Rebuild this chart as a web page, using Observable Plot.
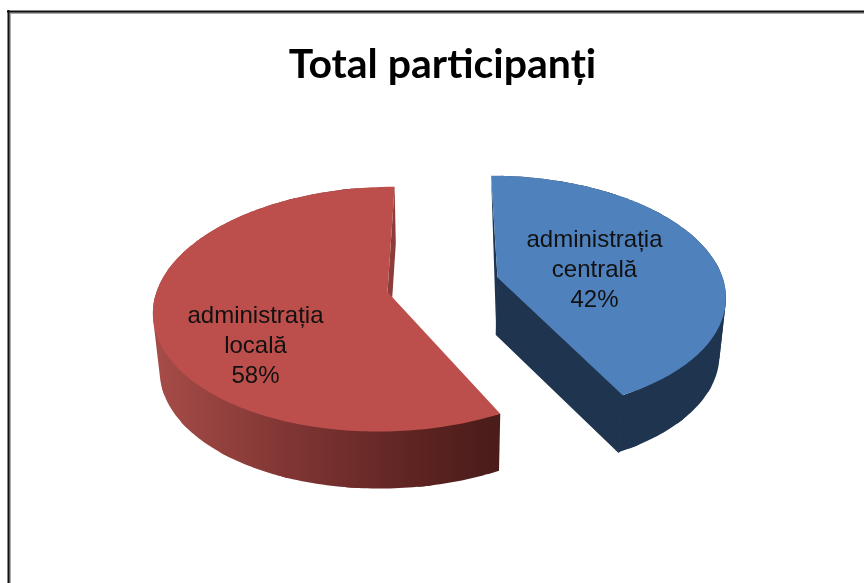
<!DOCTYPE html>
<html>
<head>
<meta charset="utf-8">
<script src="https://cdn.jsdelivr.net/npm/d3@7"></script>
<script src="https://cdn.jsdelivr.net/npm/@observablehq/plot@0.6"></script>
<style>
html,body{margin:0;padding:0;background:#fff;overflow:hidden}
svg{display:block;filter:blur(0.5px)}
</style>
</head>
<body>
<div id="chart"></div>
<script>
// Data
const categories = ["administrația\ncentrală", "administrația\nlocală"];
const shares = [42, 58];
const chartTitle = "Total participanți";

// Pie view settings (one per slice, in the order of the data)
const apexX = [497, 387], apexY = [277, 291.5];
const radiusX = [225, 231], radiusY = [116, 120];
const topColors = ["#4f81bd", "#bc4f4b"];
const wallColors = ["#1f344f", "url(#redWall)"];
const innerColors = ["#1f344f", "#8c3c39"];
const labelX = [594, 255], labelY = [267, 343];
const wallInset = [[3, 0], [0, 10]];
const vanishX = 445, perspective = 0.14, depth = 57, depthScale = 0.977, edgeNudge = 1.5;
const chunk = 16, chunkOverlap = 3;

const total = d3.sum(shares);
const boundaries = d3.cumsum(shares).map(v => v / total * 360);
const bounds = [[0, boundaries[0] + edgeNudge], [boundaries[0] + edgeNudge, 360]];

function project(i, deg, radial, low) {
  const a = deg * Math.PI / 180;
  const u = Math.sin(a) * radial, v = -Math.cos(a) * radial;
  const s = 1 / (1 - perspective * v);
  let x = vanishX + (apexX[i] + radiusX[i] * u - vanishX) * s;
  let y = apexY[i] + radiusY[i] * v * s;
  if (low) { x = vanishX + (x - vanishX) * depthScale; y += depth; }
  return {x, y};
}
const surface = i => [...d3.range(bounds[i][0], bounds[i][1], 1).concat(bounds[i][1]).map(a => project(i, a, 1, false)), project(i, 0, 0, false)];

// the outer wall: overlapping convex pieces, so no seams show and the silhouette stays filled
function wallPieces(i) {
  const a0 = bounds[i][0] + wallInset[i][0], a1 = bounds[i][1] - wallInset[i][1];
  const out = [];
  for (let a = a0, k = 0; a < a1; a += chunk, k++) {
    const end = Math.min(a + chunk + chunkOverlap, a1);
    const angles = d3.range(a, end, 1).concat(end);
    const pts = angles.flatMap(t => [project(i, t, 1, false), project(i, t, 1, true)]).map(p => [p.x, p.y]);
    d3.polygonHull(pts).forEach(([x, y]) => out.push({x, y, k}));
  }
  return out;
}
const frontWall = (i, deg) => [project(i, deg, 1, false), project(i, 0, 0, false), project(i, 0, 0, true), project(i, deg, 1, true), project(i, deg, 1, false)];
const backWall = (i, deg) => [project(i, deg, 1, false), project(i, 0, 0, false), project(i, 0, 0, true)];

const poly = (pts, color) => Plot.line(pts, {x: "x", y: "y", fill: color, stroke: "none"});
const seamless = (pts, color) => Plot.line(pts, {x: "x", y: "y", fill: color, stroke: color, strokeWidth: 1.2});
const pieces = (i) => Plot.line(wallPieces(i), {x: "x", y: "y", z: "k", fill: wallColors[i], stroke: "none"});

const sliceMarks = [
  poly(backWall(0, 0), innerColors[0]),
  pieces(0),
  seamless(frontWall(0, bounds[0][1]), innerColors[0]),
  poly(surface(0), topColors[0]),
  pieces(1),
  poly(frontWall(1, 360), innerColors[1]),
  poly(surface(1), topColors[1])
];

const labels = shares.map((s, i) => ({text: `${categories[i]}\n${s}%`, x: labelX[i], y: labelY[i]}));

const defs = () => {
  const d = d3.create("svg:defs");
  const g = d.append("linearGradient").attr("id", "redWall")
    .attr("gradientUnits", "userSpaceOnUse")
    .attr("x1", 155).attr("x2", 497).attr("y1", 0).attr("y2", 0);
  [[0, "#a64c48"], [0.4, "#7f3533"], [0.8, "#5a2220"], [1, "#4a1c1a"]]
    .forEach(([o, c]) => g.append("stop").attr("offset", o).attr("stop-color", c));
  return d.node();
};

const plot = Plot.plot({
  width: 864, height: 583, margin: 0,
  style: {background: "#fff", maxWidth: "none"},
  x: {domain: [0, 864], range: [0, 864], axis: null},
  y: {domain: [0, 583], range: [0, 583], axis: null},
  marks: [
    defs,
    Plot.ruleX([9], {y1: 11, y2: 583, stroke: "#aaa", strokeWidth: 3}),
    Plot.ruleY([12], {x1: 8, x2: 864, stroke: "#aaa", strokeWidth: 3}),
    Plot.ruleX([8], {y1: 10, y2: 583, stroke: "#111", strokeWidth: 2}),
    Plot.ruleY([11], {x1: 7, x2: 864, stroke: "#111", strokeWidth: 2}),
    ...sliceMarks,
    Plot.text(labels, {
      x: "x", y: "y", text: "text", fill: "#111", fontSize: 24,
      fontFamily: "Liberation Sans", lineHeight: 1.24, textAnchor: "middle"
    }),
    Plot.text([chartTitle], {
      x: [442], y: [64], fill: "#000", fontSize: 41, fontWeight: 700,
      fontFamily: "Lato", textAnchor: "middle"
    })
  ]
});
document.getElementById("chart").append(plot);
</script>
</body>
</html>
